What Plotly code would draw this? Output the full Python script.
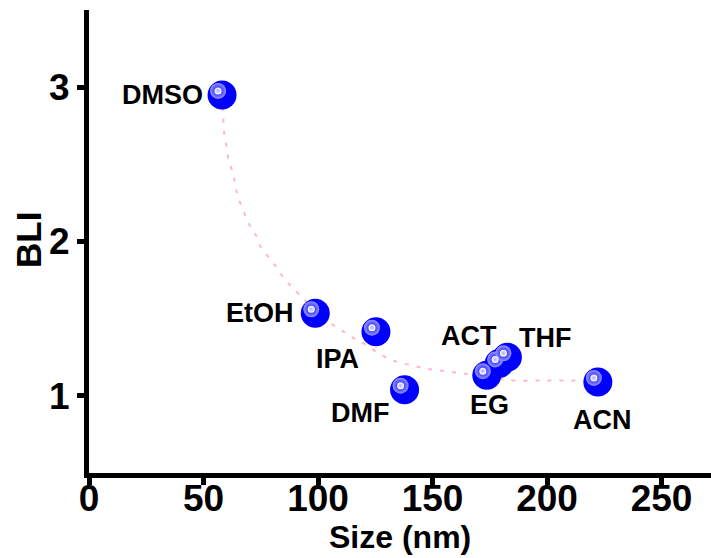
import plotly.graph_objects as go

# Solvent data: particle size (nm) vs BLI
solvents = ["DMSO", "EtOH", "IPA", "DMF", "EG", "ACT", "THF", "ACN"]
size_nm = [58.1, 98.8, 125.3, 137.8, 173.7, 179.1, 182.7, 222.2]
bli = [2.95, 1.535, 1.416, 1.04, 1.134, 1.21, 1.25, 1.09]

# Trend curve
trend_x = [58.1, 58.5, 59.2, 60.3, 61.0, 63.0, 63.9, 65.3, 67.4, 69.6, 72.6, 74.8,
           78.3, 81.8, 84.7, 88.2, 92.3, 98.8, 104.5, 109.7, 114.8, 119.8, 129.4,
           134.5, 140.3, 146.0, 152.0, 163.0, 175.0, 185.0, 200.0, 215.0]
trend_y = [2.95, 2.84, 2.68, 2.60, 2.52, 2.44, 2.355, 2.28, 2.20, 2.12, 2.05, 1.97,
           1.90, 1.836, 1.77, 1.71, 1.65, 1.55, 1.48, 1.43, 1.38, 1.34, 1.25,
           1.22, 1.20, 1.18, 1.166, 1.146, 1.12, 1.10, 1.10, 1.10]

x_ticks = [0, 50, 100, 150, 200, 250]
y_ticks = [1, 2, 3]
x_range = [0, 271.6]
y_range = [0.5, 3.5]

# label offsets in pixels (ax, ay)
label_offsets = {
    "DMSO": (-60, 0), "EtOH": (-55, 0), "IPA": (-38, 27), "DMF": (-45, 23),
    "EG": (3, 30), "ACT": (-30, -27), "THF": (38, -19), "ACN": (5, 38),
}

W, H = 711, 558
L, R, T, B = 89, 0, 10, 85
pw, ph = W - L - R, H - T - B
ux = (x_range[1] - x_range[0]) / pw
uy = (y_range[1] - y_range[0]) / ph

FONT = "Liberation Sans, Arial, sans-serif"

fig = go.Figure()
fig.add_trace(go.Scatter(
    x=trend_x, y=trend_y, mode="lines",
    line=dict(color="rgba(255,160,180,0.75)", width=2, dash="4px,8px", shape="spline"),
    hoverinfo="skip", showlegend=False))

fig.add_trace(go.Scatter(
    x=size_nm, y=bli, mode="markers",
    marker=dict(size=29, color="#0000ff", line=dict(width=0)),
    showlegend=False))

hx = [v - 4 * ux for v in size_nm]
hy = [v + 4 * uy for v in bli]
fig.add_trace(go.Scatter(
    x=hx, y=hy, mode="markers",
    marker=dict(size=16, color="rgba(150,150,255,1)", line=dict(width=0),
                gradient=dict(type="radial", color="rgba(0,0,255,1)")),
    hoverinfo="skip", showlegend=False))
fig.add_trace(go.Scatter(
    x=hx, y=hy, mode="markers",
    marker=dict(size=7, color="white", line=dict(width=0),
                gradient=dict(type="radial", color="rgba(170,170,255,1)")),
    hoverinfo="skip", showlegend=False))

for name, xv, yv in zip(solvents, size_nm, bli):
    ax, ay = label_offsets[name]
    fig.add_annotation(x=xv, y=yv, xref="x", yref="y", text=name, showarrow=False,
                       xshift=ax, yshift=-ay,
                       font=dict(family=FONT, size=27, color="black", weight="bold"))

axis_common = dict(showgrid=False, zeroline=False, showline=True, linecolor="black",
                   linewidth=5, ticks="outside", ticklen=7, tickwidth=5, tickcolor="black",
                   tickfont=dict(family=FONT, size=37, color="black", weight="bold"))

fig.update_xaxes(range=x_range, tickvals=x_ticks, ticklabelstandoff=-18, **axis_common)
fig.update_yaxes(range=y_range, tickvals=y_ticks, **axis_common)

fig.add_annotation(x=0.5, y=-(H - T - ph - 1) / ph, xref="paper", yref="paper",
                   text="Size (nm)", showarrow=False, xanchor="center", yanchor="bottom",
                   font=dict(family=FONT, size=32, color="black", weight="bold"))
fig.add_annotation(x=(28 - L) / pw, y=(473 - 240) / ph, xref="paper", yref="paper",
                   text="BLI", showarrow=False, textangle=-90, xanchor="center", yanchor="middle",
                   font=dict(family=FONT, size=35, color="black", weight="bold"))

fig.update_layout(width=W, height=H, margin=dict(l=L, r=R, t=T, b=B),
                  plot_bgcolor="white", paper_bgcolor="white")

fig.write_html("out.html")
